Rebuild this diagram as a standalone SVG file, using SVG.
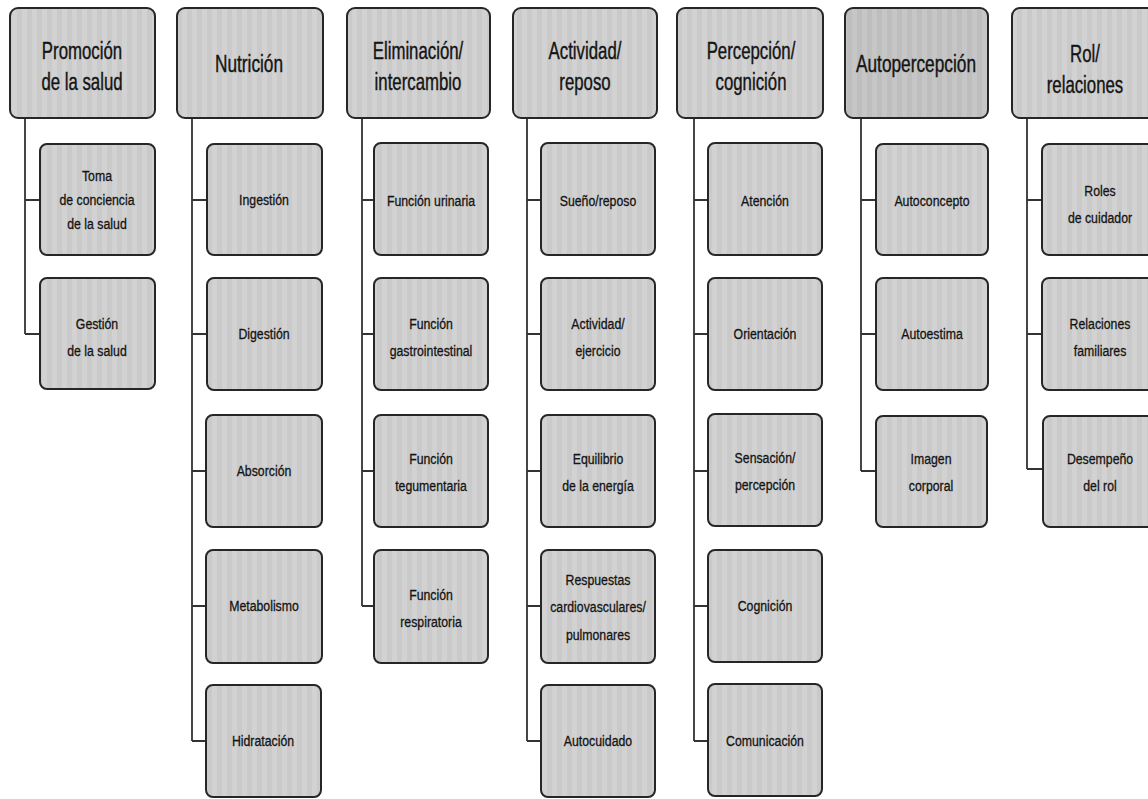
<svg xmlns="http://www.w3.org/2000/svg" width="1148" height="799" viewBox="0 0 1148 799">
<defs>
<pattern id="tex" width="10" height="10" patternUnits="userSpaceOnUse">
<rect width="10" height="10" fill="#cacaca"/>
<rect x="2" width="5" height="10" fill="#d2d2d2"/>
</pattern>
<pattern id="texd" width="10" height="10" patternUnits="userSpaceOnUse">
<rect width="10" height="10" fill="#bebebe"/>
<rect x="2" width="5" height="10" fill="#c6c6c6"/>
</pattern>
</defs>
<style>
.box{fill:url(#tex);stroke:#262626;stroke-width:2}
.dk{fill:url(#texd)}
text{font-family:"Liberation Sans",Arial,sans-serif;fill:#141414;stroke:#141414;text-anchor:middle}
.h{font-size:24px;stroke-width:0.4}
.c{font-size:15px;stroke-width:0.3}
#connectors path{stroke:#333333;stroke-width:1.8;fill:none}
</style>
<rect width="1148" height="799" fill="#ffffff"/>
<g id="connectors">
<path d="M25,118V334M25,200H40M25,334H40"/>
<path d="M192,118V741M192,200H207M192,334H207M192,471H207M192,606H207M192,741H207"/>
<path d="M362,118V606M362,200H374M362,334H374M362,471H374M362,606H374"/>
<path d="M527,118V741M527,200H541M527,334H541M527,471H541M527,606H541M527,741H541"/>
<path d="M694,118V741M694,200H708M694,334H708M694,471H708M694,606H708M694,741H708"/>
<path d="M861,118V471M861,200H876M861,334H876M861,471H876"/>
<path d="M1027,118V469M1027,200H1042M1027,334H1042M1027,469H1042"/>
</g>
<!-- Column 1 -->
<g id="promocion"><rect class="box" x="10" y="8" width="145" height="110" rx="8"/>
<text class="h" transform="translate(82,59) scale(0.7,1)">Promoción</text>
<text class="h" transform="translate(82,90) scale(0.7,1)">de la salud</text></g>
<g id="toma"><rect class="box" x="40" y="144" width="115" height="111" rx="7"/>
<text class="c" transform="translate(97,181) scale(0.82,1)">Toma</text>
<text class="c" transform="translate(97,205) scale(0.82,1)">de conciencia</text>
<text class="c" transform="translate(97,229) scale(0.82,1)">de la salud</text></g>
<g id="gestion"><rect class="box" x="40" y="278" width="115" height="111" rx="7"/>
<text class="c" transform="translate(97,329) scale(0.82,1)">Gestión</text>
<text class="c" transform="translate(97,356) scale(0.82,1)">de la salud</text></g>
<!-- Column 2 -->
<g id="nutricion"><rect class="box" x="177" y="8" width="146" height="110" rx="8"/>
<text class="h" transform="translate(249,72) scale(0.72,1)">Nutrición</text></g>
<g id="ingestion"><rect class="box" x="207" y="144" width="115" height="111" rx="7"/>
<text class="c" transform="translate(264,205) scale(0.82,1)">Ingestión</text></g>
<g id="digestion"><rect class="box" x="207" y="278" width="115" height="112" rx="7"/>
<text class="c" transform="translate(264,339) scale(0.82,1)">Digestión</text></g>
<g id="absorcion"><rect class="box" x="206" y="415" width="116" height="112" rx="7"/>
<text class="c" transform="translate(264,476) scale(0.82,1)">Absorción</text></g>
<g id="metabolismo"><rect class="box" x="206" y="550" width="116" height="113" rx="7"/>
<text class="c" transform="translate(264,611) scale(0.82,1)">Metabolismo</text></g>
<g id="hidratacion"><rect class="box" x="206" y="685" width="115" height="112" rx="7"/>
<text class="c" transform="translate(263,746) scale(0.82,1)">Hidratación</text></g>
<!-- Column 3 -->
<g id="eliminacion"><rect class="box" x="347" y="8" width="143" height="110" rx="8"/>
<text class="h" transform="translate(418,59) scale(0.7,1)">Eliminación/</text>
<text class="h" transform="translate(418,90) scale(0.7,1)">intercambio</text></g>
<g id="urinaria"><rect class="box" x="374" y="143" width="114" height="112" rx="7"/>
<text class="c" transform="translate(431,206) scale(0.82,1)">Función urinaria</text></g>
<g id="gastro"><rect class="box" x="374" y="278" width="114" height="112" rx="7"/>
<text class="c" transform="translate(431,329) scale(0.82,1)">Función</text>
<text class="c" transform="translate(431,356) scale(0.82,1)">gastrointestinal</text></g>
<g id="tegumentaria"><rect class="box" x="374" y="415" width="114" height="112" rx="7"/>
<text class="c" transform="translate(431,464) scale(0.82,1)">Función</text>
<text class="c" transform="translate(431,491) scale(0.82,1)">tegumentaria</text></g>
<g id="respiratoria"><rect class="box" x="374" y="550" width="114" height="113" rx="7"/>
<text class="c" transform="translate(431,600) scale(0.82,1)">Función</text>
<text class="c" transform="translate(431,627) scale(0.82,1)">respiratoria</text></g>
<!-- Column 4 -->
<g id="actividad"><rect class="box" x="513" y="8" width="144" height="110" rx="8"/>
<text class="h" transform="translate(585,59) scale(0.7,1)">Actividad/</text>
<text class="h" transform="translate(585,90) scale(0.7,1)">reposo</text></g>
<g id="sueno"><rect class="box" x="541" y="143" width="114" height="112" rx="7"/>
<text class="c" transform="translate(598,206) scale(0.82,1)">Sueño/reposo</text></g>
<g id="ejercicio"><rect class="box" x="541" y="278" width="114" height="112" rx="7"/>
<text class="c" transform="translate(598,329) scale(0.82,1)">Actividad/</text>
<text class="c" transform="translate(598,356) scale(0.82,1)">ejercicio</text></g>
<g id="equilibrio"><rect class="box" x="541" y="415" width="114" height="112" rx="7"/>
<text class="c" transform="translate(598,464) scale(0.82,1)">Equilibrio</text>
<text class="c" transform="translate(598,491) scale(0.82,1)">de la energía</text></g>
<g id="respuestas"><rect class="box" x="541" y="550" width="114" height="113" rx="7"/>
<text class="c" transform="translate(598,585) scale(0.82,1)">Respuestas</text>
<text class="c" transform="translate(598,612) scale(0.82,1)">cardiovasculares/</text>
<text class="c" transform="translate(598,640) scale(0.82,1)">pulmonares</text></g>
<g id="autocuidado"><rect class="box" x="541" y="685" width="114" height="112" rx="7"/>
<text class="c" transform="translate(598,746) scale(0.82,1)">Autocuidado</text></g>
<!-- Column 5 -->
<g id="percepcion"><rect class="box" x="677" y="8" width="146" height="110" rx="8"/>
<text class="h" transform="translate(751,59) scale(0.7,1)">Percepción/</text>
<text class="h" transform="translate(751,90) scale(0.7,1)">cognición</text></g>
<g id="atencion"><rect class="box" x="708" y="143" width="114" height="112" rx="7"/>
<text class="c" transform="translate(765,206) scale(0.82,1)">Atención</text></g>
<g id="orientacion"><rect class="box" x="708" y="278" width="114" height="112" rx="7"/>
<text class="c" transform="translate(765,339) scale(0.82,1)">Orientación</text></g>
<g id="sensacion"><rect class="box" x="708" y="414" width="114" height="112" rx="7"/>
<text class="c" transform="translate(765,463) scale(0.82,1)">Sensación/</text>
<text class="c" transform="translate(765,490) scale(0.82,1)">percepción</text></g>
<g id="cognicion"><rect class="box" x="708" y="550" width="114" height="112" rx="7"/>
<text class="c" transform="translate(765,611) scale(0.82,1)">Cognición</text></g>
<g id="comunicacion"><rect class="box" x="708" y="684" width="114" height="112" rx="7"/>
<text class="c" transform="translate(765,746) scale(0.82,1)">Comunicación</text></g>
<!-- Column 6 -->
<g id="autopercepcion"><rect class="box dk" x="845" y="8" width="143" height="110" rx="8"/>
<text class="h" transform="translate(916,72) scale(0.72,1)">Autopercepción</text></g>
<g id="autoconcepto"><rect class="box" x="876" y="144" width="112" height="111" rx="7"/>
<text class="c" transform="translate(932,206) scale(0.82,1)">Autoconcepto</text></g>
<g id="autoestima"><rect class="box" x="876" y="278" width="112" height="112" rx="7"/>
<text class="c" transform="translate(932,339) scale(0.82,1)">Autoestima</text></g>
<g id="imagen"><rect class="box" x="876" y="416" width="111" height="111" rx="7"/>
<text class="c" transform="translate(931,464) scale(0.82,1)">Imagen</text>
<text class="c" transform="translate(931,491) scale(0.82,1)">corporal</text></g>
<!-- Column 7 -->
<g id="rol"><rect class="box" x="1012" y="8" width="146" height="110" rx="8"/>
<text class="h" transform="translate(1085,62) scale(0.7,1)">Rol/</text>
<text class="h" transform="translate(1085,93) scale(0.7,1)">relaciones</text></g>
<g id="roles"><rect class="box" x="1042" y="144" width="116" height="111" rx="7"/>
<text class="c" transform="translate(1100,196) scale(0.82,1)">Roles</text>
<text class="c" transform="translate(1100,223) scale(0.82,1)">de cuidador</text></g>
<g id="familiares"><rect class="box" x="1042" y="278" width="116" height="112" rx="7"/>
<text class="c" transform="translate(1100,329) scale(0.82,1)">Relaciones</text>
<text class="c" transform="translate(1100,356) scale(0.82,1)">familiares</text></g>
<g id="desempeno"><rect class="box" x="1043" y="416" width="115" height="111" rx="7"/>
<text class="c" transform="translate(1100,464) scale(0.82,1)">Desempeño</text>
<text class="c" transform="translate(1100,491) scale(0.82,1)">del rol</text></g>
</svg>
